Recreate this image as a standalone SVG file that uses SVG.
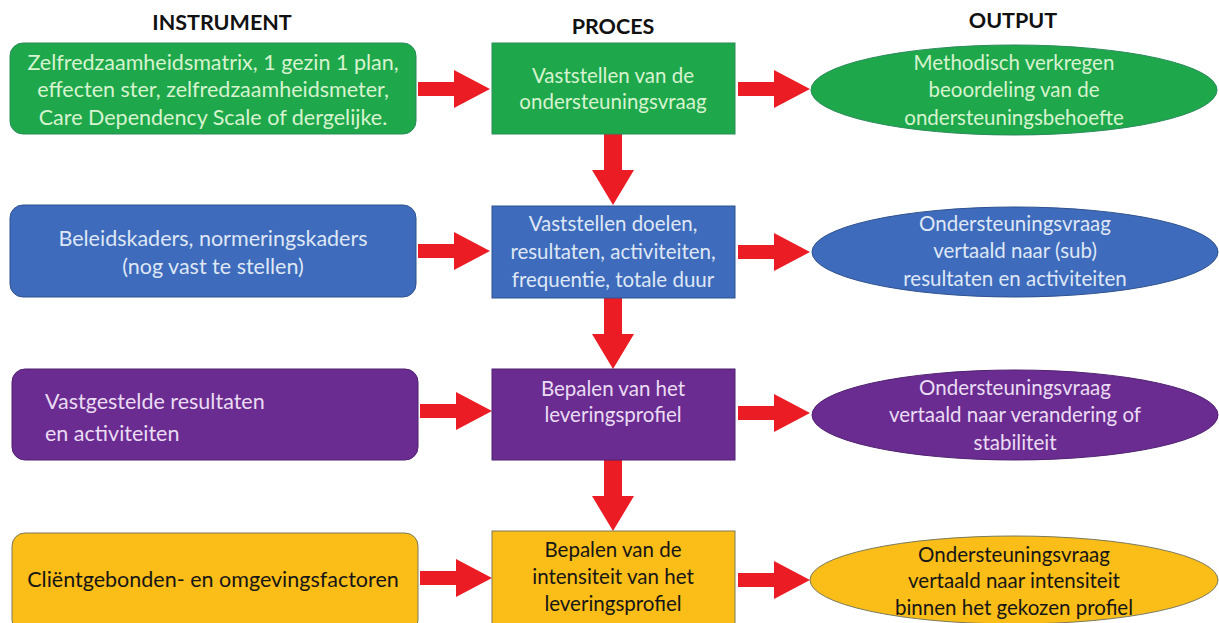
<svg xmlns="http://www.w3.org/2000/svg" xmlns:xlink="http://www.w3.org/1999/xlink" width="1219" height="623" viewBox="0 0 1219 623">
<style>
text{font-family:Lato,"Open Sans","Liberation Sans",sans-serif;text-anchor:middle}
.hd{font-weight:bold;font-size:21.5px;fill:#111}
.t{font-size:20.5px}
.tl{font-size:21.5px}
.g{fill:#1ea84b;stroke:#2a8a5a;stroke-width:1}
.b{fill:#3e6bbb;stroke:#2f528f;stroke-width:1}
.p{fill:#6a2c91;stroke:#4f2170;stroke-width:1}
.y{fill:#fbbd17;stroke:#7a7a5a;stroke-width:1}
.tg{fill:#d7f3cf}
.tb{fill:#dfe7f6}
.tp{fill:#eadcf3}
.ty{fill:#161616}
.arr{fill:#ec1c24}
</style>
<defs>
<path id="ah" d="M0,-7 H36 V-19 L72,0 L36,19 V7 H0 Z"/>
<path id="av" d="M-9,0 V36 H-21 L0,71 L21,36 H9 V0 Z"/>
</defs>
<rect width="1219" height="623" fill="#fff"/>
<g id="headers">
<text class="hd" x="222" y="30">INSTRUMENT</text>
<text class="hd" x="613" y="34">PROCES</text>
<text class="hd" x="1013" y="28">OUTPUT</text>
</g>
<g id="connectors" class="arr">
<use xlink:href="#ah" x="418" y="89"/>
<use xlink:href="#ah" x="738" y="89"/>
<use xlink:href="#av" x="613" y="134"/>
<use xlink:href="#ah" x="418" y="251"/>
<use xlink:href="#ah" x="738" y="252"/>
<use xlink:href="#av" x="613" y="298"/>
<use xlink:href="#ah" x="420" y="411"/>
<use xlink:href="#ah" x="738" y="413"/>
<use xlink:href="#av" x="613" y="460"/>
<use xlink:href="#ah" x="420" y="578"/>
<use xlink:href="#ah" x="738" y="580"/>
</g>
<g id="instr1">
<rect class="g" x="10" y="43" width="406" height="91" rx="13"/>
<text class="tl tg" x="213"><tspan x="213" y="70">Zelfredzaamheidsmatrix, 1 gezin 1 plan,</tspan><tspan x="213" y="97">effecten ster, zelfredzaamheidsmeter,</tspan><tspan x="213" y="125">Care Dependency Scale of dergelijke.</tspan></text>
</g>
<g id="proces1">
<rect class="g" x="492" y="43" width="243" height="91"/>
<text class="t tg"><tspan x="613" y="83">Vaststellen van de</tspan><tspan x="613" y="109">ondersteuningsvraag</tspan></text>
</g>
<g id="output1">
<ellipse class="g" cx="1014" cy="90" rx="203" ry="45"/>
<text class="t tg"><tspan x="1014" y="70">Methodisch verkregen</tspan><tspan x="1014" y="97">beoordeling van de</tspan><tspan x="1014" y="125">ondersteuningsbehoefte</tspan></text>
</g>
<g id="instr2">
<rect class="b" x="10" y="205" width="406" height="92" rx="13"/>
<text class="tl tb"><tspan x="213" y="246">Beleidskaders, normeringskaders</tspan><tspan x="213" y="274">(nog vast te stellen)</tspan></text>
</g>
<g id="proces2">
<rect class="b" x="492" y="206" width="243" height="92"/>
<text class="t tb"><tspan x="613" y="231">Vaststellen doelen,</tspan><tspan x="613" y="259">resultaten, activiteiten,</tspan><tspan x="613" y="287">frequentie, totale duur</tspan></text>
</g>
<g id="output2">
<ellipse class="b" cx="1015" cy="252" rx="203" ry="45"/>
<text class="t tb"><tspan x="1015" y="231">Ondersteuningsvraag</tspan><tspan x="1015" y="258">vertaald naar (sub)</tspan><tspan x="1015" y="286">resultaten en activiteiten</tspan></text>
</g>
<g id="instr3">
<rect class="p" x="12" y="369" width="406" height="91" rx="13"/>
<text class="tl tp" style="text-anchor:start"><tspan x="45" y="409">Vastgestelde resultaten</tspan><tspan x="45" y="441">en activiteiten</tspan></text>
</g>
<g id="proces3">
<rect class="p" x="492" y="369" width="243" height="91"/>
<text class="t tp"><tspan x="613" y="396">Bepalen van het</tspan><tspan x="613" y="422">leveringsprofiel</tspan></text>
</g>
<g id="output3">
<ellipse class="p" cx="1015" cy="415" rx="203" ry="45"/>
<text class="t tp"><tspan x="1015" y="395">Ondersteuningsvraag</tspan><tspan x="1015" y="422">vertaald naar verandering of</tspan><tspan x="1015" y="450">stabiliteit</tspan></text>
</g>
<g id="instr4">
<rect class="y" x="12" y="533" width="406" height="100" rx="13"/>
<text class="tl ty"><tspan x="213" y="587">Cliëntgebonden- en omgevingsfactoren</tspan></text>
</g>
<g id="proces4">
<rect class="y" x="492" y="531" width="243" height="100"/>
<text class="t ty"><tspan x="613" y="557">Bepalen van de</tspan><tspan x="613" y="584">intensiteit van het</tspan><tspan x="613" y="611">leveringsprofiel</tspan></text>
</g>
<g id="output4">
<ellipse class="y" cx="1014" cy="580" rx="204" ry="44"/>
<text class="t ty"><tspan x="1014" y="562">Ondersteuningsvraag</tspan><tspan x="1014" y="588">vertaald naar intensiteit</tspan><tspan x="1014" y="615">binnen het gekozen profiel</tspan></text>
</g>
</svg>
